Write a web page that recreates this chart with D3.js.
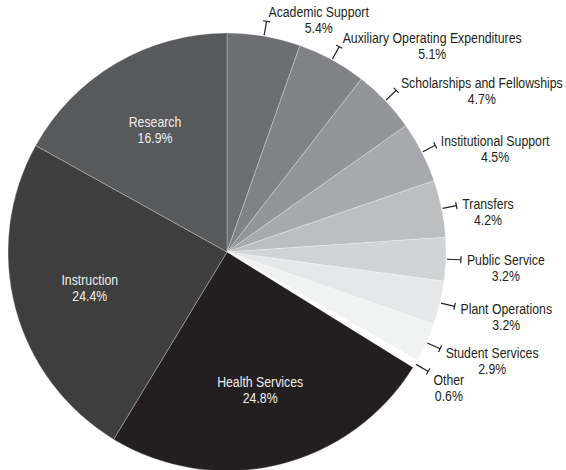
<!DOCTYPE html>
<html><head><meta charset="utf-8">
<script src="https://cdn.jsdelivr.net/npm/d3@7"></script>
<style>body{margin:0;background:#fff}svg{display:block}</style>
</head><body>
<svg id="c" width="566" height="470"></svg>
<script>
const categories = ["Academic Support","Auxiliary Operating Expenditures","Scholarships and Fellowships","Institutional Support","Transfers","Public Service","Plant Operations","Student Services","Other","Health Services","Instruction","Research"];
const values = [5.4,5.1,4.7,4.5,4.2,3.2,3.2,2.9,0.6,24.8,24.4,16.9];
const valueLabels = ["5.4%","5.1%","4.7%","4.5%","4.2%","3.2%","3.2%","2.9%","0.6%","24.8%","24.4%","16.9%"];
const colors = ["#6d6e71","#808285","#939598","#a7a9ac","#bcbec0","#d1d3d4","#e6e7e8","#f1f2f2","#ffffff","#231f20","#3e3e3f","#58595b"];
const insideLabels = ["Health Services","Instruction","Research"];

const W=566,H=470,cx=227,cy=252,R=219;
const font="'Liberation Sans',Arial,sans-serif";
const SX=0.82, FS=15;
const svg=d3.select("#c");
const g=svg.append("g").attr("transform",`translate(${cx},${cy})`);
const data=categories.map((c,i)=>({name:c,value:values[i],label:valueLabels[i],color:colors[i]}));
const pie=d3.pie().sort(null).value(d=>d.value).startAngle(0).endAngle(2*Math.PI);
const arcs=pie(data);
const arc=d3.arc().innerRadius(0).outerRadius(R);
g.selectAll("path.s").data(arcs).join("path").attr("class","s")
 .attr("d",arc).attr("fill",d=>d.data.color)
 .attr("stroke","rgba(255,255,255,0.45)").attr("stroke-width",0.6);

function label(parent,x,y,lines,color,anchorLeft){
  const lg=parent.append("g");
  const t=lg.append("text").attr("font-family",font).attr("font-size",FS)
    .attr("fill",color).attr("text-anchor","middle");
  const sp=lines.map((s,i)=>t.append("tspan").attr("x",0).attr("y",i*16).text(s));
  let cxp=x;
  if(anchorLeft){ const w=sp[0].node().getComputedTextLength()*SX; cxp=x+w/2; }
  lg.attr("transform",`translate(${cxp},${y}) scale(${SX},1)`);
}

// inside labels
const inArc=d3.arc().innerRadius(142).outerRadius(142);
arcs.filter(d=>insideLabels.includes(d.data.name)).forEach(d=>{
  const [x,y]=inArc.centroid(d);
  label(g,x,y-3,[d.data.name,d.data.label],"#eeeeee",false);
});

// outside labels with leaders
arcs.filter(d=>!insideLabels.includes(d.data.name)).forEach(d=>{
  const a=(d.startAngle+d.endAngle)/2;
  const s=Math.sin(a),c=-Math.cos(a);
  const r0=R+1,r1=R+15;
  const x0=s*r0,y0=c*r0,x1=s*r1,y1=c*r1;
  g.append("line").attr("x1",x0).attr("y1",y0).attr("x2",x1).attr("y2",y1)
   .attr("stroke","#231f20").attr("stroke-width",1.2);
  const px=-c,py=s;
  g.append("line").attr("x1",x1+px*3.5).attr("y1",y1+py*3.5).attr("x2",x1-px*3.5).attr("y2",y1-py*3.5)
   .attr("stroke","#231f20").attr("stroke-width",1.2);
  const left=x1+1+5*Math.sin(a);
  const midY=y1-10*Math.cos(a)+(d.data.name==="Other"?3:0);
  label(g,left,midY+5,[d.data.name,d.data.label],"#231f20",true);
});
</script>
</body></html>
